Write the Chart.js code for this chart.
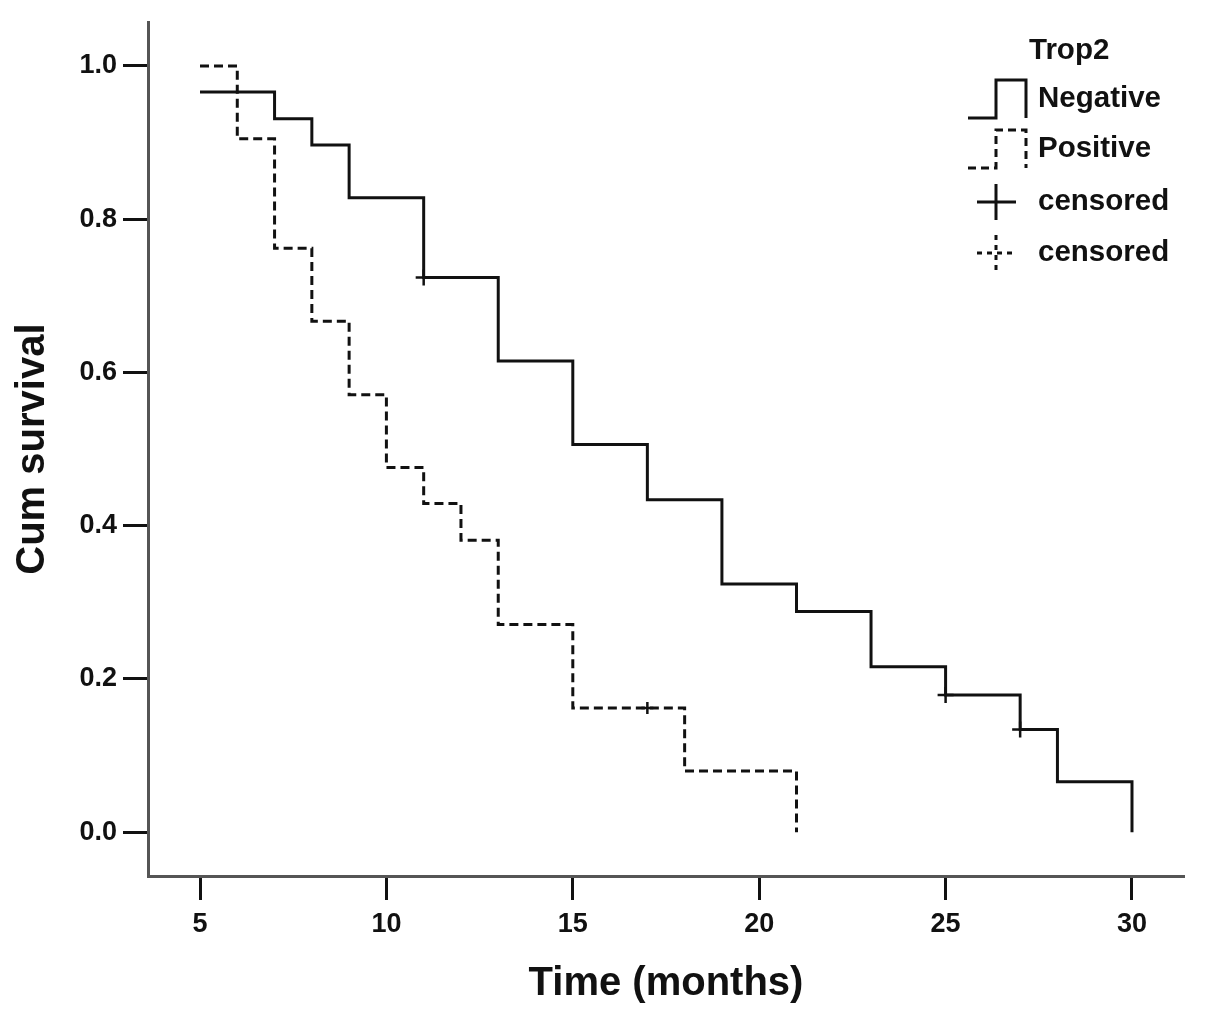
<!DOCTYPE html>
<html>
<head>
<meta charset="utf-8">
<title>Trop2 survival</title>
<script src="https://cdn.jsdelivr.net/npm/chart.js@4.4.1/dist/chart.umd.min.js"></script>
<style>
  html, body { margin: 0; padding: 0; background: #fff; }
  canvas { display: block; }
</style>
</head>
<body>
<canvas id="kmChart" width="1205" height="1033"></canvas>
<script>
// Kaplan-Meier steps (time of drop, survival after drop)
var negTimes = [5, 7, 8, 9, 11, 13, 15, 17, 19, 21, 23, 25, 27, 28, 30];
var negSurv = [0.966, 0.931, 0.897, 0.828, 0.724, 0.615, 0.506, 0.434, 0.324, 0.288, 0.216, 0.179, 0.134, 0.066, 0.0];
var posTimes = [5, 6, 7, 8, 9, 10, 11, 12, 13, 15, 18, 21];
var posSurv = [1.0, 0.905, 0.762, 0.667, 0.571, 0.476, 0.429, 0.381, 0.271, 0.162, 0.080, 0.0];

// censored observations
var negCensTimes = [11, 25, 27];
var negCensSurv = [0.724, 0.179, 0.134];
var posCensTimes = [17];
var posCensSurv = [0.162];

var xTicks = [5, 10, 15, 20, 25, 30];
var yTicks = [0.0, 0.2, 0.4, 0.6, 0.8, 1.0];

var legendTitle = 'Trop2';
var groupLabels = ['Negative', 'Positive'];
var censLabel = 'censored';

var FONT = '"Liberation Sans", Arial, sans-serif';
var DASH = [9, 5];

function toPoints(xs, ys) {
	return xs.map(function (x, i) { return { x: x, y: ys[i] }; });
}

// legend drawn by hand so the step icons look like the SPSS ones
var kmLegend = {
	id: 'kmLegend',
	afterDraw: function (chart) {
		var ctx = chart.ctx;
		ctx.save();
		ctx.fillStyle = '#111';
		ctx.strokeStyle = '#111';
		ctx.textBaseline = 'middle';
		ctx.font = 'bold 29.5px ' + FONT;
		ctx.fillText(legendTitle, 1029, 51);

		var rows = [
			{ text: groupLabels[0], y: 99, kind: 'step', dash: [] },
			{ text: groupLabels[1], y: 149, kind: 'step', dash: [8, 5] },
			{ text: censLabel, y: 202, kind: 'cross', dash: [] },
			{ text: censLabel, y: 253, kind: 'cross', dash: [5, 5] }
		];
		rows.forEach(function (r) {
			ctx.lineWidth = 3;
			ctx.setLineDash(r.dash);
			ctx.beginPath();
			if (r.kind === 'step') {
				ctx.moveTo(968, r.y + 19);
				ctx.lineTo(996, r.y + 19);
				ctx.lineTo(996, r.y - 19);
				ctx.lineTo(1026, r.y - 19);
				ctx.lineTo(1026, r.y + 19);
			} else {
				ctx.moveTo(977, r.y);
				ctx.lineTo(1016, r.y);
				ctx.moveTo(996, r.y - 18);
				ctx.lineTo(996, r.y + 18);
			}
			ctx.stroke();
			ctx.setLineDash([]);
			ctx.fillText(r.text, 1038, r.y);
		});
		ctx.restore();
	}
};

const context = document.getElementById('kmChart');
const myChart = new Chart(context, {
	type: 'line',
	data: {
		datasets: [{
			label: groupLabels[0],
			data: toPoints(negTimes, negSurv),
			stepped: true,
			borderColor: '#111',
			borderWidth: 3,
			pointRadius: 0,
			fill: false
		}, {
			label: groupLabels[1],
			data: toPoints(posTimes, posSurv),
			stepped: true,
			borderColor: '#111',
			borderWidth: 3,
			borderDash: DASH,
			pointRadius: 0,
			fill: false
		}, {
			label: censLabel,
			type: 'scatter',
			data: toPoints(negCensTimes, negCensSurv),
			pointStyle: 'cross',
			pointRadius: 8,
			pointBorderWidth: 2.5,
			pointBorderColor: '#111',
			showLine: false
		}, {
			label: censLabel,
			type: 'scatter',
			data: toPoints(posCensTimes, posCensSurv),
			pointStyle: 'cross',
			pointRadius: 6,
			pointBorderWidth: 2.5,
			pointBorderColor: '#111',
			showLine: false
		}]
	},
	options: {
		responsive: false,
		animation: false,
		devicePixelRatio: 1,
		layout: { padding: { top: 18, right: 21, left: 0, bottom: 0 } },
		plugins: {
			legend: { display: false },
			tooltip: { enabled: false }
		},
		scales: {
			x: {
				type: 'linear',
				min: 3.605,
				max: 31.395,
				afterBuildTicks: function (scale) {
					scale.ticks = xTicks.map(function (v) { return { value: v }; });
				},
				afterFit: function (scale) { scale.height = 157; },
				border: { color: '#555', width: 3 },
				grid: {
					drawOnChartArea: false,
					drawTicks: true,
					tickLength: 24,
					tickWidth: 3,
					tickColor: '#111'
				},
				ticks: {
					color: '#111',
					padding: 8,
					font: { family: FONT, size: 27, weight: 'bold' },
					callback: function (v) { return v; }
				},
				title: {
					display: true,
					text: 'Time (months)',
					color: '#111',
					font: { family: FONT, size: 40, weight: 'bold' },
					padding: { top: 0, bottom: 25 }
				}
			},
			y: {
				type: 'linear',
				min: -0.0571,
				max: 1.0571,
				afterBuildTicks: function (scale) {
					scale.ticks = yTicks.map(function (v) { return { value: v }; });
				},
				afterFit: function (scale) { scale.width = 148; },
				border: { color: '#555', width: 3 },
				grid: {
					drawOnChartArea: false,
					drawTicks: true,
					tickLength: 25,
					tickWidth: 3,
					tickColor: '#111'
				},
				ticks: {
					color: '#111',
					padding: 6,
					font: { family: FONT, size: 27, weight: 'bold' },
					callback: function (v) { return Number(v).toFixed(1); }
				},
				title: {
					display: true,
					text: 'Cum survival',
					color: '#111',
					font: { family: FONT, size: 40, weight: 'bold' },
					padding: { top: 9, bottom: 0 }
				}
			}
		}
	},
	plugins: [kmLegend]
});
</script>
</body>
</html>
